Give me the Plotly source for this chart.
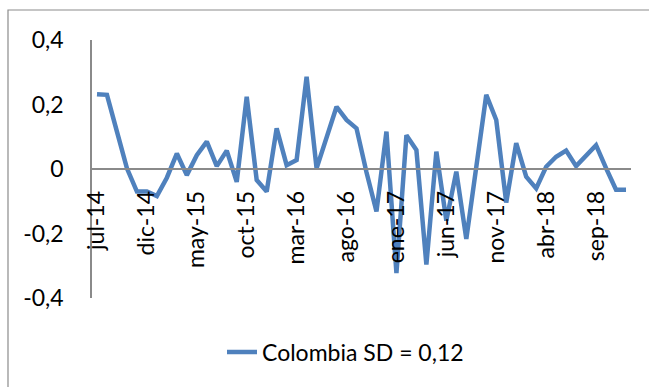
import plotly.graph_objects as go

# Monthly categories, jul-14 .. dic-18
meses = ["ene", "feb", "mar", "abr", "may", "jun",
         "jul", "ago", "sep", "oct", "nov", "dic"]
categorias = []
for anio in range(14, 19):
    for m, nombre in enumerate(meses):
        if anio == 14 and m < 6:
            continue
        categorias.append(f"{nombre}-{anio}")

colombia = [
    0.232, 0.230, 0.116, 0.002, -0.070, -0.070, -0.084, -0.027, 0.048, -0.019,
    0.043, 0.085, 0.009, 0.057, -0.040, 0.224, -0.034, -0.070, 0.126, 0.012,
    0.028, 0.286, 0.002, 0.096, 0.193, 0.152, 0.126, -0.010, -0.132, 0.116,
    -0.323, 0.105, 0.059, -0.296, 0.054, -0.160, -0.008, -0.217, 0.007, 0.230,
    0.152, -0.104, 0.080, -0.024, -0.060, 0.007, 0.038, 0.057, 0.009, 0.042,
    0.074, 0.003, -0.064, -0.064,
]

serie_nombre = "Colombia SD = 0,12"
y_ticks = [0.4, 0.2, 0.0, -0.2, -0.4]
y_ticktext = ["0,4", "0,2", "0", "-0,2", "-0,4"]
x_ticks = categorias[::5]

FONT = "Lato"
FSIZE = 23
AXIS_GRAY = "#8a8a8a"

fig = go.Figure()
fig.add_trace(go.Scatter(
    x=categorias,
    y=colombia,
    mode="lines",
    name=serie_nombre,
    line=dict(color="#4f81bd", width=4.5),
))

fig.update_layout(
    width=649,
    height=387,
    autosize=False,
    margin=dict(l=92, r=18, t=40, b=89, autoexpand=False),
    paper_bgcolor="white",
    plot_bgcolor="white",
    font=dict(family=FONT, size=FSIZE, color="#000000"),
    showlegend=True,
    legend=dict(
        orientation="h",
        xref="container", yref="container",
        x=222 / 649, xanchor="left",
        y=1 - 352 / 387, yanchor="middle",
        font=dict(family=FONT, size=FSIZE, color="#000000"),
        bgcolor="rgba(0,0,0,0)",
    ),
    xaxis=dict(
        type="category",
        range=[-0.5, len(categorias) - 0.5],
        anchor="free",
        position=0.5,
        automargin=False,
        showline=True,
        linecolor=AXIS_GRAY,
        linewidth=1.5,
        showgrid=False,
        zeroline=False,
        ticks="",
        tickmode="array",
        tickvals=x_ticks,
        ticktext=x_ticks,
        tickangle=-90,
        ticklabelstandoff=12,
        tickfont=dict(family=FONT, size=FSIZE, color="#000000"),
    ),
    yaxis=dict(
        range=[-0.4, 0.4],
        automargin=False,
        showline=True,
        linecolor=AXIS_GRAY,
        linewidth=1.5,
        showgrid=False,
        zeroline=False,
        ticks="",
        tickmode="array",
        tickvals=y_ticks,
        ticktext=y_ticktext,
        ticklabelstandoff=22,
        tickfont=dict(family=FONT, size=FSIZE, color="#000000"),
    ),
    shapes=[dict(
        type="rect", xref="paper", yref="paper",
        x0=-84 / 539, x1=1.2, y0=-0.6, y1=1 + 30 / 258,
        line=dict(color="#8c8c8c", width=1.2),
        fillcolor="rgba(0,0,0,0)",
        layer="below",
    )],
)

fig.write_html("out.html")
